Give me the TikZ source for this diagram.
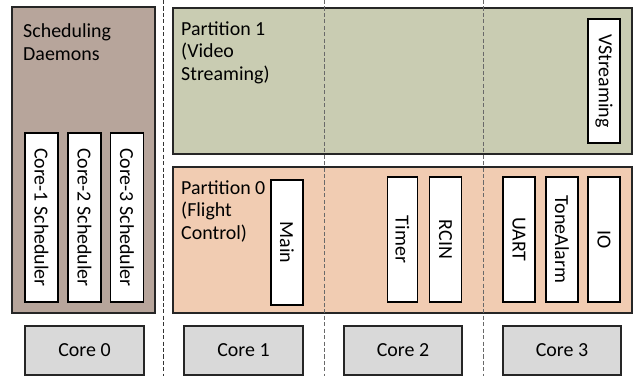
\documentclass[tikz,border=0pt]{standalone}
\usepackage{fontspec}
\setmainfont{Carlito}
\usetikzlibrary{positioning}

\definecolor{daemonfill}{RGB}{183,165,155}
\definecolor{videofill}{RGB}{201,204,178}
\definecolor{flightfill}{RGB}{241,204,178}
\definecolor{corefill}{RGB}{217,217,217}
\definecolor{sepgray}{RGB}{105,105,105}

\tikzset{
  region/.style={draw=black!85, line width=1.6pt, inner sep=0pt},
  task/.style={draw=black, fill=white, line width=1.6pt, rotate=-90, inner sep=0pt, minimum height=0.96cm},
  core/.style={draw=black!85, fill=corefill, line width=1.6pt, minimum width=3.55cm, minimum height=1.47cm},
  title/.style={anchor=north west, align=left, inner sep=0pt},
  sep/.style={dash pattern=on 3.5pt off 2pt, line width=0.7pt}
}

\begin{document}
\begin{tikzpicture}[x=0.03cm, y=-0.03cm, font=\fontsize{17}{19.6}\selectfont]
    \useasboundingbox (0,0) rectangle (639,376);

    % Scheduling daemons on core 0
    \node (daemons) at (83.5,160) [region, fill=daemonfill, minimum width=4.29cm, minimum height=9.18cm] {};
    \node (daemonsT) at (23,23) [title] {Scheduling\\Daemons};
    \node (sched1) at (41.5,217.5) [task, minimum width=5.07cm, minimum height=0.99cm] {Core-1 Scheduler};
    \node (sched2) at (84.5,217.5) [task, minimum width=5.07cm, minimum height=0.99cm] {Core-2 Scheduler};
    \node (sched3) at (127,217.5) [task, minimum width=5.07cm, minimum height=0.99cm] {Core-3 Scheduler};

    % Partition 1: video streaming
    \node (part1) at (402.5,81) [region, fill=videofill, minimum width=13.77cm, minimum height=4.38cm] {};
    \node (part1T) at (181,21) [title] {Partition 1\\(Video\\Streaming)};
    \node (vstream) at (604,81) [task, minimum width=3.72cm] {VStreaming};

    % Partition 0: flight control
    \node (part0) at (402.5,240) [region, fill=flightfill, minimum width=13.77cm, minimum height=4.38cm] {};
    \node (part0T) at (181,180) [title] {Partition 0\\(Flight\\Control)};
    \node (main) at (287,242.5) [task, minimum width=3.75cm] {Main};
    \node (timer) at (402.5,239.5) [task, minimum width=3.75cm, minimum height=0.9cm] {Timer};
    \node (rcin) at (445.5,239.5) [task, minimum width=3.75cm] {RCIN};
    \node (uart) at (519,239.5) [task, minimum width=3.75cm] {UART};
    \node (tone) at (562,239.5) [task, minimum width=3.75cm] {ToneAlarm};
    \node (io) at (604,239.5) [task, minimum width=3.75cm] {IO};

    % Cores
    \node (core0) at (84.5,350.5) [core] {Core 0};
    \node (core1) at (243.5,350.5) [core] {Core 1};
    \node (core2) at (403,350.5) [core] {Core 2};
    \node (core3) at (562,350.5) [core] {Core 3};

    % Column separators
    \draw[sep, black!80] (163,0) -- (163,376);
    \draw[sep, sepgray] (324,0) -- (324,376);
    \draw[sep, sepgray] (483,0) -- (483,376);
\end{tikzpicture}
\end{document}
